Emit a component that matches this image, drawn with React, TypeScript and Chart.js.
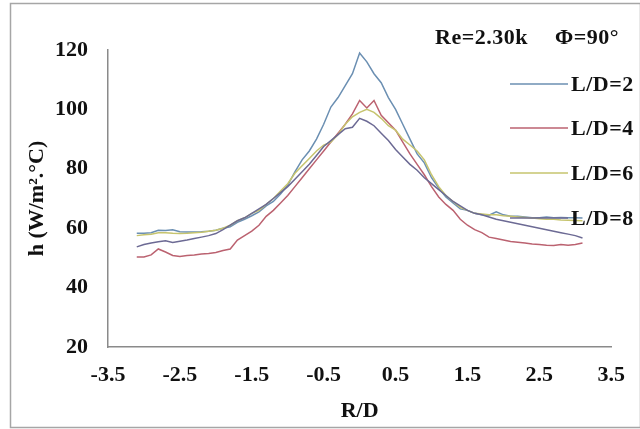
import React, { useEffect, useRef } from "react";
import { Chart, registerables } from "chart.js";

Chart.register(...registerables);

const rd = [
  -3.1, -3.0, -2.9, -2.8, -2.7, -2.6, -2.5, -2.4, -2.3, -2.2, -2.1, -2.0, -1.9, -1.8, -1.7, -1.6,
  -1.5, -1.4, -1.3, -1.2, -1.1, -1.0, -0.9, -0.8, -0.7, -0.6, -0.5, -0.4, -0.3, -0.2, -0.1, 0.0,
  0.1, 0.2, 0.3, 0.4, 0.5, 0.6, 0.7, 0.8, 0.9, 1.0, 1.1, 1.2, 1.3, 1.4, 1.5, 1.6, 1.7, 1.8, 1.9,
  2.0, 2.1, 2.2, 2.3, 2.4, 2.5, 2.6, 2.7, 2.8, 2.9, 3.0, 3.1,
];

const ld2 = [
  58.3, 58.3, 58.5, 59.3, 59.2, 59.5, 58.8, 58.7, 58.7, 58.8, 59.0, 59.3, 60.0, 60.5, 62.0, 63.0,
  64.2, 65.5, 67.5, 69.0, 71.5, 74.5, 79.0, 83.0, 86.0, 90.0, 95.0, 100.8, 104.0, 108.0, 112.0, 119.0,
  116.0, 112.0, 109.0, 104.0, 100.0, 95.0, 90.0, 85.0, 82.0, 77.0, 73.5, 70.5, 68.5, 66.5, 66.0, 65.0, 64.5, 64.4, 65.5,
  64.5, 64.0, 64.0, 63.8, 63.5, 63.5, 63.8, 63.5, 63.6, 63.5, 63.5, 63.4,
];

const ld4 = [
  50.3, 50.3, 51.0, 53.0, 52.0, 50.8, 50.5, 50.8, 51.0, 51.3, 51.5, 51.8, 52.5, 53.0, 56.0, 57.5,
  59.0, 61.0, 64.0, 66.0, 68.5, 71.0, 74.0, 77.0, 80.0, 83.0, 86.0, 89.0, 92.0, 95.0, 98.5, 103.0,
  100.5, 103.0, 98.0, 95.5, 93.0, 89.0, 85.0, 81.5, 78.0, 74.0, 70.5, 68.0, 66.0, 63.0, 61.0, 59.5, 58.5, 57.0, 56.5,
  56.0, 55.5, 55.3, 55.0, 54.7, 54.5, 54.3, 54.2, 54.5, 54.3, 54.5, 55.0,
];

const ld6 = [
  57.5, 57.8, 58.0, 58.5, 58.5, 58.3, 58.2, 58.3, 58.5, 58.6, 59.0, 59.3, 60.0, 61.0, 62.5, 63.5,
  65.0, 66.0, 68.0, 70.0, 72.5, 75.0, 78.5, 81.0, 83.5, 86.0, 88.0, 89.0, 91.5, 95.0, 97.5, 99.0,
  100.0, 99.0, 97.0, 94.5, 93.0, 90.0, 88.0, 86.0, 83.0, 78.0, 74.0, 71.0, 69.0, 67.0, 66.0, 65.0, 64.8, 64.5, 64.5,
  64.2, 64.0, 63.8, 63.6, 63.4, 63.2, 63.0, 63.0, 62.8, 62.7, 62.6, 62.5,
];

const ld8 = [
  53.7, 54.5, 55.0, 55.4, 55.8, 55.2, 55.6, 56.0, 56.5, 57.0, 57.5, 58.2, 59.5, 61.0, 62.5, 63.5,
  65.0, 66.5, 68.0, 70.0, 72.0, 74.0, 76.5, 79.0, 81.5, 84.5, 87.5, 89.5, 91.5, 93.5, 94.0, 97.0,
  96.0, 94.5, 92.0, 89.5, 86.5, 84.0, 81.5, 79.5, 77.0, 75.0, 73.0, 71.0, 69.0, 67.5, 66.0, 65.0, 64.5, 63.8, 63.0,
  62.5, 62.0, 61.5, 61.0, 60.5, 60.0, 59.5, 59.0, 58.5, 58.0, 57.5, 56.7,
];

const seriesNames = ["L/D=2", "L/D=4", "L/D=6", "L/D=8"];
const seriesColors = ["#6b8fb2", "#bb6270", "#c6c46e", "#6c6a94"];
const xTicks = [-3.5, -2.5, -1.5, -0.5, 0.5, 1.5, 2.5, 3.5];
const yTicks = [20, 40, 60, 80, 100, 120];
const annotationRe = "Re=2.30k";
const annotationPhi = "\u03A6=90\u00B0";
const xTitle = "R/D";
const yTitle = "h (W/m\u00B2.\u00B0C)";

const FONT = "'Liberation Serif', 'Times New Roman', serif";

export default function App() {
  const ref = useRef<HTMLCanvasElement | null>(null);
  useEffect(() => {
    if (!ref.current) return;
    const allSeries = [ld2, ld4, ld6, ld8];
    const decor = {
      id: "decor",
      beforeDraw(chart: any) {
        const ctx = chart.ctx;
        ctx.save();
        ctx.fillStyle = "#ffffff";
        ctx.fillRect(0, 0, chart.width, chart.height);
        ctx.strokeStyle = "#a6a6a6";
        ctx.lineWidth = 1.5;
        ctx.strokeRect(10.5, 3.5, 630, 424);
        ctx.restore();
      },
      afterDraw(chart: any) {
        const ctx = chart.ctx;
        ctx.save();
        ctx.fillStyle = "#111111";
        ctx.font = `bold 22px ${FONT}`;
        ctx.textAlign = "left";
        ctx.textBaseline = "middle";
        try { (ctx as any).letterSpacing = "0.5px"; } catch (e) {}
        ctx.fillText(annotationRe, 435, 38);
        ctx.fillText(annotationPhi, 555, 38);
        const ys = [84, 128, 173, 218];
        seriesNames.forEach((name, i) => {
          ctx.strokeStyle = seriesColors[i];
          ctx.lineWidth = 1.6;
          ctx.beginPath();
          ctx.moveTo(510, ys[i]);
          ctx.lineTo(568, ys[i]);
          ctx.stroke();
          ctx.fillText(name, 571, ys[i] + 1);
        });
        ctx.restore();
      },
    };
    const tickFont = { family: FONT, size: 22, weight: "bold" as const };
    const chart = new Chart(ref.current, {
      type: "line",
      data: {
        datasets: seriesNames.map((name, i) => ({
          label: name,
          data: rd.map((x, j) => ({ x, y: allSeries[i][j] })),
          borderColor: seriesColors[i],
          backgroundColor: seriesColors[i],
          borderWidth: 1.5,
          pointRadius: 0,
          tension: 0,
          fill: false,
          order: 3 - i,
        })),
      },
      options: {
        animation: false,
        responsive: false,
        maintainAspectRatio: false,
        layout: { padding: { top: 50, right: 23, left: 0, bottom: 0 } },
        plugins: { legend: { display: false }, tooltip: { enabled: false } },
        scales: {
          x: {
            type: "linear",
            min: -3.5,
            max: 3.5,
            afterBuildTicks: (s: any) => {
              s.ticks = xTicks.map((v) => ({ value: v }));
            },
            afterFit: (s: any) => {
              s.height = 82;
            },
            grid: { display: false, drawTicks: false },
            border: { display: true, color: "#8a8a8a", width: 1.5 },
            ticks: {
              padding: 15,
              color: "#111",
              font: tickFont,
              callback: (v: any) => String(v),
            },
            title: {
              display: true,
              text: xTitle,
              color: "#111",
              font: tickFont,
              padding: { top: 0, bottom: 4 },
            },
          },
          y: {
            type: "linear",
            min: 20,
            max: 120,
            afterBuildTicks: (s: any) => {
              s.ticks = yTicks.map((v) => ({ value: v }));
            },
            afterFit: (s: any) => {
              s.width = 108;
            },
            grid: { display: false, drawTicks: false },
            border: { display: true, color: "#8a8a8a", width: 1.5 },
            ticks: {
              padding: 20,
              color: "#111",
              font: tickFont,
            },
            title: {
              display: true,
              text: yTitle,
              color: "#111",
              font: tickFont,
              padding: { top: 24, bottom: 0 },
            },
          },
        },
      },
      plugins: [decor],
    });
    return () => chart.destroy();
  }, []);
  return (
    <div style={{ position: "fixed", left: 0, top: 0, width: 640, height: 429 }}>
      <canvas ref={ref} width={640} height={429} style={{ width: 640, height: 429, display: "block" }} />
    </div>
  );
}
